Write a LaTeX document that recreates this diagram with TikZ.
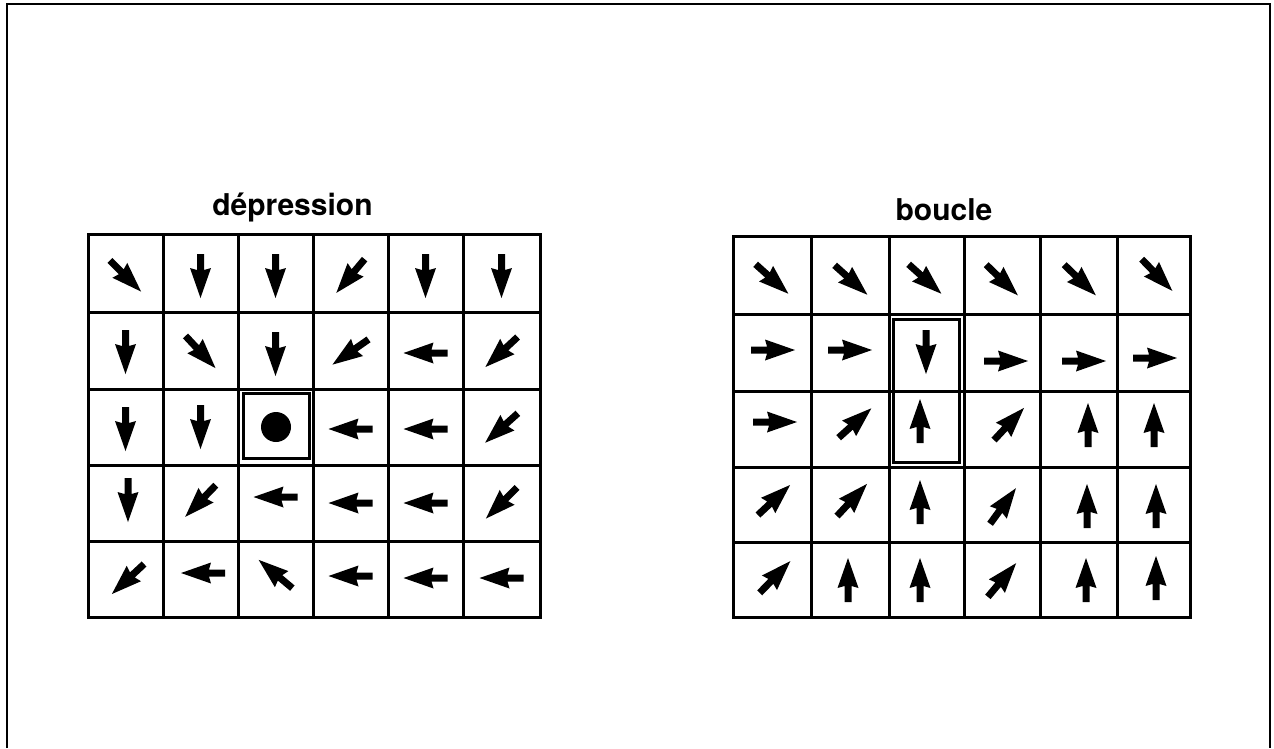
\documentclass[tikz,border=0pt]{standalone}
\usepackage{fontspec}
\setmainfont{TeX Gyre Heros}
\newcommand\arr[3]{\fill[shift={(#1,#2)},rotate=#3] (-22,-3.5) -- (-6,-3.5) -- (-8,-10.5) -- (22,0) -- (-8,10.5) -- (-6,3.5) -- (-22,3.5) -- cycle;}
\begin{document}
\begin{tikzpicture}[x=1pt,y=-1pt,
  gridline/.style={line width=3pt, line cap=rect},
  hilite/.style={line width=3pt},
  titletext/.style={font=\fontsize{30}{36}\selectfont\bfseries, anchor=base, inner sep=0pt}]
\useasboundingbox (0,0) rectangle (1274,748);
% frame
\draw[line width=2.2pt] (7,748) -- (7,4) -- (1270,4) -- (1270,748);
% titles
\node[titletext] (t1) at (292.5,215) {dépression};
\node[titletext] (t2) at (944,220) {boucle};
% left grid
\foreach \x in {88,163,238,313,388,463,540} \draw[gridline] (\x,234) -- (\x,617);
\foreach \y in {234,312,389,465,541,617} \draw[gridline] (88,\y) -- (540,\y);
% right grid
\foreach \x in {733,811,889,964,1040,1117,1190} \draw[gridline] (\x,236) -- (\x,617);
\foreach \y in {236,314,391,467,542,617} \draw[gridline] (733,\y) -- (1190,\y);
% highlights
\draw[hilite] (243,393) rectangle (309,458);
\fill (276,427) circle (15pt);
\draw[hilite] (893,319) rectangle (959,462);
% left arrows
\arr{125.5}{276}{-45} \arr{200.5}{276}{-90} \arr{275.5}{276}{-90} \arr{350.5}{276}{-130} \arr{425.5}{276}{-90} \arr{501.5}{276}{-90}
\arr{125.5}{352}{-90} \arr{200.5}{352}{-47} \arr{275.5}{354}{-90} \arr{350.5}{352}{-145} \arr{425.5}{353}{180} \arr{501.5}{352}{-137}
\arr{125.5}{429}{-90} \arr{200.5}{427}{-90} \arr{350.5}{429}{180} \arr{425.5}{429}{180} \arr{501.5}{428}{-138}
\arr{128}{500}{-90} \arr{200.5}{501}{-134} \arr{275.5}{497}{180} \arr{350.5}{503}{180} \arr{425.5}{503}{180} \arr{501.5}{503}{-135}
\arr{128}{579}{-137} \arr{203}{573}{180} \arr{275.5}{574}{140} \arr{350.5}{576}{180} \arr{425.5}{578}{180} \arr{501.5}{578}{180}
% right arrows
\arr{772}{279}{-42} \arr{851}{280}{-42} \arr{925}{279}{-42} \arr{1002}{280}{-44} \arr{1080}{280}{-44} \arr{1157}{275}{-46}
\arr{773}{350}{0} \arr{850}{350}{0} \arr{926}{352}{-90} \arr{1006}{361}{0} \arr{1084}{361}{0} \arr{1155}{358}{0}
\arr{775}{422}{0} \arr{855}{423}{42} \arr{920}{421}{90} \arr{1009}{424}{47} \arr{1088}{425}{90} \arr{1154}{425}{90}
\arr{774}{500}{43} \arr{852}{500}{47} \arr{920}{502}{90} \arr{1003}{506}{54} \arr{1087}{506}{90} \arr{1156}{506}{90}
\arr{775}{577}{46} \arr{848}{580}{90} \arr{920}{580}{90} \arr{1002}{580}{50} \arr{1086}{580}{90} \arr{1156}{578}{90}
\end{tikzpicture}
\end{document}
